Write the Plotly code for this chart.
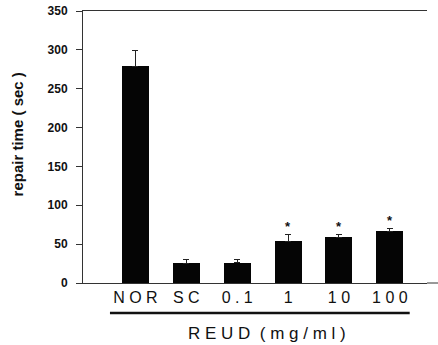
import plotly.graph_objects as go

categories = ["NOR", "SC", "0.1", "1", "10", "100"]
tick_labels = ["N O R", "S C", "0 . 1", "1", "1 0", "1 0 0"]
repair_time = [279, 25.7, 26, 54, 59, 66.5]
sem = [20, 5, 4, 8, 3, 3.5]
significant = [False, False, False, True, True, True]
y_ticks = [0, 50, 100, 150, 200, 250, 300, 350]

xpos = list(range(len(categories)))

fig = go.Figure()
fig.add_trace(go.Bar(
    x=xpos, y=repair_time, width=0.53,
    marker=dict(color="#050505", line=dict(width=0)),
    error_y=dict(type="data", symmetric=False, array=sem,
                 arrayminus=[0] * len(sem), color="#222", thickness=1, width=3),
    showlegend=False,
))

for i, (v, e, s) in enumerate(zip(repair_time, sem, significant)):
    if s:
        fig.add_annotation(x=xpos[i], y=v + e, text="<b>*</b>", showarrow=False,
                           yanchor="bottom", yshift=-1,
                           font=dict(family="Liberation Sans, Arial", size=13, color="#111"))

# long underline beneath the REUD dose groups and the extension of the x axis line
fig.add_shape(type="line", xref="x", yref="paper", x0=-0.5, x1=5.39, y0=-0.110, y1=-0.110,
              line=dict(color="#111", width=2.5))
fig.add_shape(type="line", xref="paper", yref="paper", x0=1, x1=1.032, y0=0, y1=0,
              line=dict(color="#333", width=1))
fig.add_annotation(xref="paper", yref="paper", x=0.535, y=-0.184, text="R E U D  ( m g / m l )",
                   xanchor="center", yanchor="middle",
                   showarrow=False, font=dict(family="Liberation Sans, Arial", size=17, color="#111"))
fig.add_annotation(xref="paper", yref="paper", x=-0.19, y=0.545, text="<b>repair time ( sec )</b>",
                   xanchor="center", yanchor="middle",
                   textangle=-90, showarrow=False,
                   font=dict(family="Liberation Sans Narrow, Liberation Sans, Arial", size=15, color="#111"))

fig.update_layout(
    width=438, height=345,
    margin=dict(l=83, r=11, t=11, b=62, autoexpand=False),
    plot_bgcolor="white", paper_bgcolor="white",
    bargap=0,
)
fig.update_xaxes(range=[-1.03, 5.73], tickvals=xpos, ticktext=tick_labels,
                 showline=True, linecolor="#333", linewidth=1, mirror=True,
                 ticks="", showgrid=False, zeroline=False, automargin=False,
                 tickfont=dict(family="Liberation Sans, Arial", size=16, color="#111"))
fig.update_yaxes(range=[0, 350], tickvals=y_ticks, ticktext=[f"<b>{t}</b>" for t in y_ticks],
                 showline=True, linecolor="#333", linewidth=1,
                 ticks="outside", ticklen=6, tickcolor="#333", ticklabelstandoff=6,
                 showgrid=False, zeroline=False, automargin=False,
                 tickfont=dict(family="Liberation Sans, Arial", size=12, color="#111"))

fig.write_html("out.html", config={"displayModeBar": False},
               post_script="document.body.style.margin='0';document.body.style.overflow='hidden';")
